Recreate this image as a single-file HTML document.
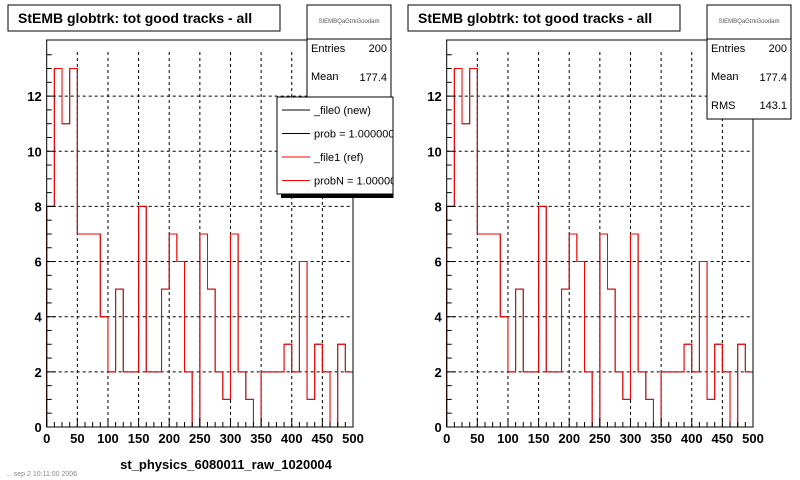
<!DOCTYPE html>
<html><head><meta charset="utf-8"><style>
body{margin:0;background:#fff;}
svg{display:block;font-family:"Liberation Sans",sans-serif;}
</style></head><body>
<svg id="c" width="800" height="480" viewBox="0 0 800 480">
<defs><clipPath id="lc"><rect x="0" y="0" width="393.5" height="480"/></clipPath></defs>
<rect x="0" y="0" width="800" height="480" fill="#fff"/>
</svg>
<script>
const binWidth = 12.5;
const newCounts = [8,13,11,13,7,7,7,4,2,5,2,2,8,2,2,5,7,6,2,0,7,5,2,1,7,2,1,0,2,2,2,3,2,6,1,3,2,0,3,2];
const refCounts = [8,13,11,13,7,7,7,4,2,5,2,2,8,2,2,5,7,6,2,0,7,5,2,1,7,2,1,0,2,2,2,3,2,6,1,3,2,0,3,2];
const xTicks = [0,50,100,150,200,250,300,350,400,450,500];
const yTicks = [0,2,4,6,8,10,12];
const NS='http://www.w3.org/2000/svg';
const svg=document.getElementById('c');
function mk(tag,attrs,parent,text){const e=document.createElementNS(NS,tag);for(const k in attrs)e.setAttribute(k,attrs[k]);if(text!==undefined)e.textContent=text;(parent||svg).appendChild(e);return e;}
function pad(ox, name, xlabel){
  const g=mk('g',{});
  
  
  const x0=ox+46.7, x1=ox+353, yb=427, yt=52, ymax=13.6;
  const X=v=>x0+(v/500)*(x1-x0);
  const Y=v=>yb-(v/ymax)*(yb-yt);
  xTicks.forEach(t=>{if(t>0&&t<500){const l=mk('line',{x1:X(t),x2:X(t),y1:yt,y2:yb,stroke:'#000','stroke-dasharray':'3,3','stroke-width':1},g);
    }});
  yTicks.forEach(t=>{if(t>0){const l=mk('line',{x1:x0,x2:x1,y1:Y(t),y2:Y(t),stroke:'#000','stroke-dasharray':'3,3','stroke-width':1},g);
    }});
  function hist(vals,color,nm){let d='M'+X(0)+','+Y(0);
    vals.forEach((v,i)=>{d+=' L'+X(i*binWidth)+','+Y(v)+' L'+X((i+1)*binWidth)+','+Y(v);});
    d+=' L'+X(vals.length*binWidth)+','+Y(0);
    const p=mk('path',{d:d,fill:'none',stroke:color,'stroke-width':1},g);
    }
  hist(newCounts,'#000','new-histogram');
  hist(refCounts,'#f00','ref-histogram');
  const fr=mk('rect',{x:x0,y:yt-12,width:x1-x0,height:yb-yt+12,fill:'none',stroke:'#000','stroke-width':1},g);
  
  for(let v=0;v<=500;v+=12.5){const maj=v%50===0;mk('line',{x1:X(v),x2:X(v),y1:yb,y2:yb-(maj?9:5),stroke:'#000'},g);}
  xTicks.forEach(t=>{const tx=mk('text',{x:X(t),y:yb+16,'font-size':13,'font-weight':'bold','text-anchor':'middle'},g,String(t));
    });
  for(let v=0;v<=13.5;v+=0.5){const maj=v%2===0;mk('line',{x1:x0,x2:x0+(maj?9:5),y1:Y(v),y2:Y(v),stroke:'#000'},g);}
  yTicks.forEach(t=>{const tx=mk('text',{x:x0-5,y:Y(t)+5,'font-size':13,'font-weight':'bold','text-anchor':'end'},g,String(t));
    });
  const xl=mk('text',{x:ox+(name==='left-pad'?226:574),y:469,'font-size':13,'font-weight':'bold','text-anchor':'middle'},g,xlabel);
  
  const tb=mk('rect',{x:ox+8,y:5,width:272,height:26,fill:'#fff',stroke:'#000'},g);
  
  const tt=mk('text',{x:ox+18,y:23,'font-size':14,'font-weight':'bold'},g,'StEMB globtrk: tot good tracks - all');
  
  return g;
}
const L=pad(0,'left-pad','st_physics_6080011_raw_1020004');
const R=pad(400,'right-pad','dev/daq_sl302.ittf/Sat/year_2005/CuCu62_MinBias/');
function stats(ox,h,rms,g){
  const b=mk('rect',{x:ox,y:5,width:84,height:h,fill:'#fff',stroke:'#000'},g);
  
  mk('line',{x1:ox,x2:ox+84,y1:39,y2:39,stroke:'#000'},g);
  mk('text',{x:ox+42,y:23,'font-size':6,'text-anchor':'middle',fill:'#555'},g,'StEMBQaGtrkGoodam');
  mk('text',{x:ox+4,y:52,'font-size':11},g,'Entries');
  mk('text',{x:ox+80,y:52,'font-size':11,'text-anchor':'end'},g,'200');
  mk('text',{x:ox+4,y:80,'font-size':11},g,'Mean');
  mk('text',{x:ox+80,y:81,'font-size':11,'text-anchor':'end'},g,'177.4');
  if(rms){mk('text',{x:ox+4,y:109,'font-size':11},g,'RMS');
  mk('text',{x:ox+80,y:109,'font-size':11,'text-anchor':'end'},g,'143.1');}
}
stats(307,140,false,L);
stats(707,114,true,R);
const lg=mk('g',{'clip-path':'url(#lc)'});


mk('rect',{x:281,y:100,width:115,height:98,fill:'#000'},lg);
mk('rect',{x:277,y:97,width:116,height:97,fill:'#fff',stroke:'#000'},lg);
[['_file0 (new)','#000'],['prob = 1.000000','#000'],['_file1 (ref)','#f00'],['probN = 1.000000','#f00']].forEach((e,i)=>{
  const y=110+i*23.5;
  const eg=mk('g',{},lg);
  
  
  mk('line',{x1:282,x2:310,y1:y,y2:y,stroke:e[1],'stroke-width':1},eg);
  mk('text',{x:314,y:y+4,'font-size':11},eg,e[0]);
});
const ft=mk('text',{x:6,y:476,'font-size':7,fill:'#888'},svg,'... sep 2 10:11:00 2006');


</script>
</body></html>
